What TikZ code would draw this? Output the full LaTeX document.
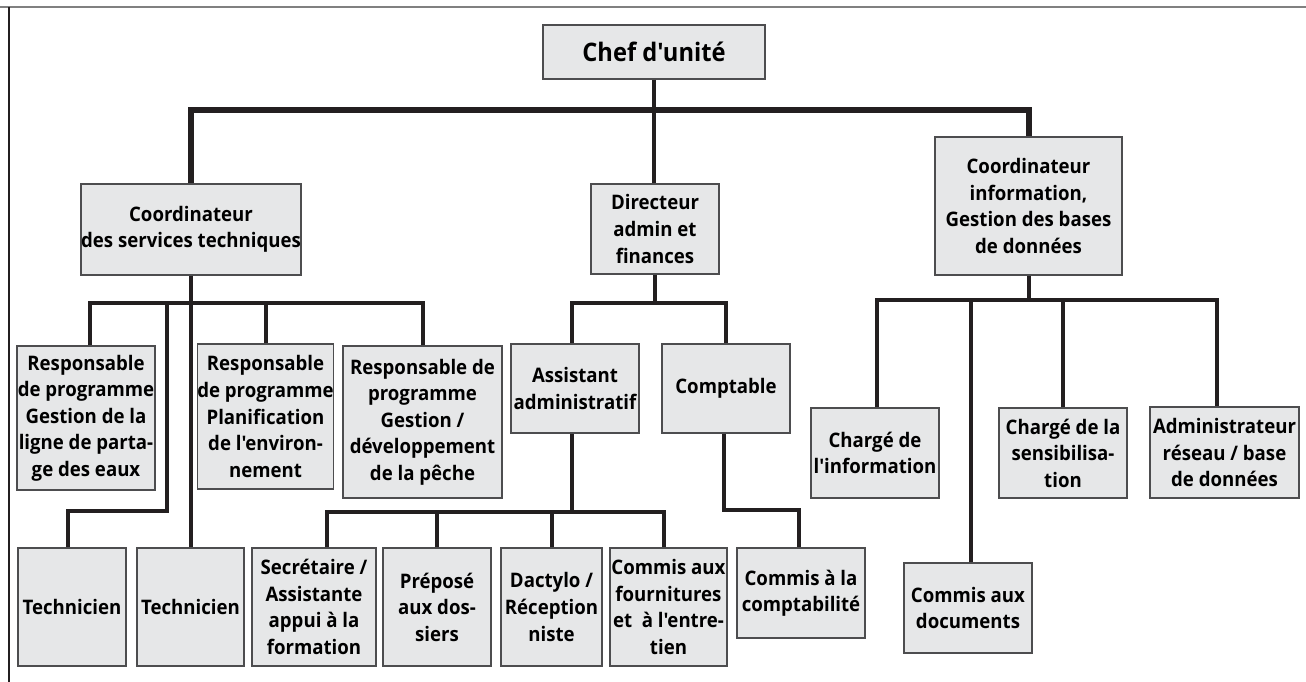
\documentclass[tikz,border=0pt]{standalone}
\usepackage{fontspec}
\setmainfont[FakeStretch=0.93,Ligatures=TeXOff]{Open Sans}
\usepackage{xcolor}
\definecolor{boxfill}{HTML}{E6E7E8}
\definecolor{boxline}{HTML}{4D4D4F}
\definecolor{linkcol}{HTML}{231F20}
\newlength\unitpx
\setlength\unitpx{0.02cm}
\tikzset{
  orgbox/.style={rectangle,draw=boxline,fill=boxfill,line width=1.2\unitpx,align=center,inner sep=0pt,
    font=\bfseries\fontsize{11.4}{15.1}\selectfont},
  link/.style={draw=linkcol,line width=4\unitpx},
  toplink/.style={draw=linkcol,line width=6\unitpx}
}

\begin{document}
\begin{tikzpicture}[x=\unitpx,y=-\unitpx]
\useasboundingbox (0,0) rectangle (1306,682);
% frame
\draw [gray,line width=2\unitpx] (0,7) -- (1306,7);
\draw [linkcol,line width=1.2\unitpx] (9,7) -- (9,682);

% level 1 and 2
\node [orgbox,minimum width=222\unitpx,minimum height=54\unitpx,font=\bfseries\fontsize{14.5}{17}\selectfont] (chef) at (654,52) {Chef d'unité};
\node [orgbox,minimum width=220\unitpx,minimum height=91\unitpx] (cst) at (191,229.5) {Coordinateur\\des services techniques};
\node [orgbox,minimum width=128\unitpx,minimum height=90\unitpx] (daf) at (655,229) {Directeur\\admin et\\finances};
\node [orgbox,minimum width=187\unitpx,minimum height=138\unitpx] (cinfo) at (1028.5,206) {Coordinateur\\information,\\Gestion des bases\\de données};

% level 3
\node [orgbox,minimum width=138\unitpx,minimum height=144\unitpx] (resp1) at (86,418) {Responsable\\de programme\\Gestion de la\\ligne de parta-\\ge des eaux};
\node [orgbox,minimum width=135\unitpx,minimum height=145\unitpx] (resp2) at (265.5,416.5) {Responsable\\de programme\\Planification\\de l'environ-\\nement};
\node [orgbox,minimum width=159\unitpx,minimum height=152\unitpx] (resp3) at (422.5,422) {Responsable de\\programme\\Gestion /\\développement\\de la pêche};
\node [orgbox,minimum width=128\unitpx,minimum height=89\unitpx] (asst) at (575,388.5) {Assistant\\administratif};
\node [orgbox,minimum width=128\unitpx,minimum height=89\unitpx] (compt) at (726,388.5) {Comptable};
\node [orgbox,minimum width=128\unitpx,minimum height=90\unitpx] (cinf) at (875,453) {Chargé de\\l'information};
\node [orgbox,minimum width=128\unitpx,minimum height=90\unitpx] (csens) at (1063,453) {Chargé de la\\sensibilisa-\\tion};
\node [orgbox,minimum width=149\unitpx,minimum height=91\unitpx] (admin) at (1224.5,452.5) {Administrateur\\réseau / base\\de données};

% level 4
\node [orgbox,minimum width=108\unitpx,minimum height=118\unitpx] (tech1) at (72,607) {Technicien};
\node [orgbox,minimum width=107\unitpx,minimum height=118\unitpx] (tech2) at (190.5,607) {Technicien};
\node [orgbox,minimum width=124\unitpx,minimum height=118\unitpx] (sec) at (314,607) {Secrétaire /\\Assistante\\appui à la\\formation};
\node [orgbox,minimum width=108\unitpx,minimum height=118\unitpx] (prep) at (437,607) {Préposé\\aux dos-\\siers};
\node [orgbox,minimum width=101\unitpx,minimum height=118\unitpx] (dact) at (551.5,607) {Dactylo /\\Réception\\niste};
\node [orgbox,minimum width=117\unitpx,minimum height=118\unitpx] (cfour) at (668.5,607) {Commis aux\\fournitures\\et~ à l'entre-\\tien};
\node [orgbox,minimum width=128\unitpx,minimum height=90\unitpx] (ccompta) at (801,593) {Commis à la\\comptabilité};
\node [orgbox,minimum width=128\unitpx,minimum height=90\unitpx] (cdoc) at (968,608) {Commis aux\\documents};

% connectors
\draw [link] (chef.south) -- (chef.south |- daf.north);
\draw [toplink] (cst.north) -- ++(0,-73) -| (cinfo.north);

\draw [link] (cst.south) -- ++(0,27) coordinate (cstbus);
\draw [link] ([xshift=4\unitpx]resp1.north) |- (cstbus) -| (resp3.north);
\draw [link] (resp2.north) -- (resp2.north |- cstbus);
\draw [link] (cstbus) -- (cstbus |- tech2.north);
\draw [link] ([xshift=-24\unitpx]cstbus) |- ([xshift=-4\unitpx,yshift=36\unitpx]tech1.north) -- ([xshift=-4\unitpx]tech1.north);

\draw [link] (daf.south) -- ++(0,28) coordinate (dafbus);
\draw [link] ([xshift=-3\unitpx]asst.north) |- (dafbus) -| (compt.north);
\draw [link] ([xshift=-3\unitpx]asst.south) -- ++(0,78) coordinate (asstbus);
\draw [link] ([xshift=13\unitpx]sec.north) |- (asstbus) -| ([xshift=-5\unitpx]cfour.north);
\draw [link] (prep.north) -- (prep.north |- asstbus);
\draw [link] (dact.north) -- (dact.north |- asstbus);
\draw [link] ([xshift=-2\unitpx]compt.south) |- ([xshift=-2\unitpx,yshift=37\unitpx]ccompta.north) -- ([xshift=-2\unitpx]ccompta.north);

\draw [link] (cinfo.south) -- ++(0,24) coordinate (cinfobus);
\draw [link] ([xshift=2\unitpx]cinf.north) |- (cinfobus) -| ([xshift=-8\unitpx]admin.north);
\draw [link] ([xshift=3\unitpx]cdoc.north) -- ([xshift=3\unitpx]cdoc.north |- cinfobus);
\draw [link] (csens.north) -- (csens.north |- cinfobus);
\end{tikzpicture}
\end{document}
